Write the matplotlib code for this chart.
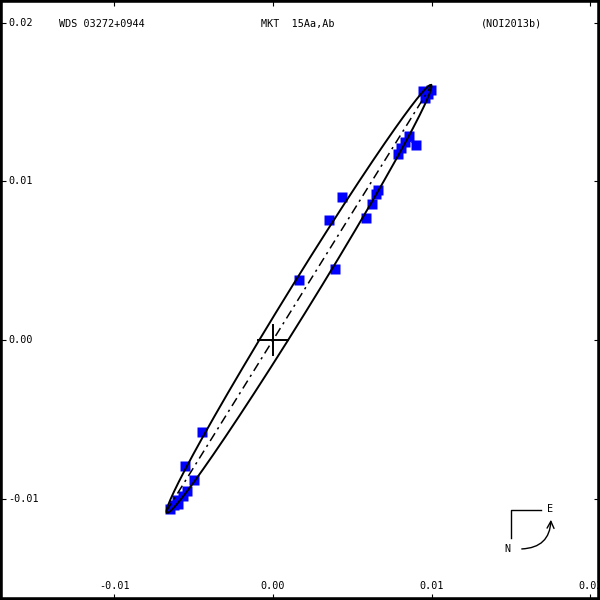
import numpy as np
import matplotlib
matplotlib.use("Agg")
import matplotlib.pyplot as plt
import matplotlib.transforms as mtransforms
from matplotlib.patches import FancyArrowPatch

# header texts
title_left = "WDS 03272+0944"
title_mid = "MKT  15Aa,Ab"
title_right = "(NOI2013b)"

# observed positions (arcsec)
obs_x = [0.00946, 0.00996, 0.00958, 0.00977, 0.00858, 0.00832, 0.00807, 0.00788,
         0.00902, 0.00662, 0.00649, 0.00624, 0.00586, 0.00435, 0.00353, 0.00391,
         0.00164, -0.00448, -0.00555, -0.00498, -0.00542, -0.00567, -0.00605,
         -0.00624, -0.00649, -0.00599]
obs_y = [0.01570, 0.01576, 0.01526, 0.01551, 0.01286, 0.01248, 0.01211, 0.01173,
         0.01230, 0.00946, 0.00921, 0.00858, 0.00769, 0.00902, 0.00757, 0.00448,
         0.00378, -0.00580, -0.00794, -0.00883, -0.00952, -0.00984, -0.01009,
         -0.01040, -0.01066, -0.01034]

# apparent orbit ellipse
orb_cx, orb_cy = 0.00164, 0.00259
orb_a, orb_b = 0.01585, 0.00079
orb_ang = 58.3      # deg from +x
node_ang = 58.1     # line of nodes, through primary

ticks = [-0.01, 0.00, 0.01, 0.02]
tick_labels = ["-0.01", "0.00", "0.01", "0.02"]

FONT = dict(family="DejaVu Sans Mono", fontsize=7.3, color="black")

fig = plt.figure(figsize=(6, 6), dpi=100)
ax = fig.add_axes([0, 0, 1, 1])
ax.set_xlim(-273 / 15860, 327 / 15860)
ax.set_ylim(-260 / 15860, 340 / 15860)

for s in ax.spines.values():
    s.set_linewidth(4)
ax.set_xticks(ticks)
ax.set_yticks(ticks)
ax.tick_params(direction="in", length=4.5, width=0.8, top=True, right=True,
               labelbottom=False, labelleft=False)

# ellipse points
t = np.linspace(0, 2 * np.pi, 721)
th = np.radians(orb_ang)
ex = orb_cx + orb_a * np.cos(t) * np.cos(th) - orb_b * np.sin(t) * np.sin(th)
ey = orb_cy + orb_a * np.cos(t) * np.sin(th) + orb_b * np.sin(t) * np.cos(th)

# O-C lines to nearest orbit point
for x, y in zip(obs_x, obs_y):
    i = np.argmin((ex - x) ** 2 + (ey - y) ** 2)
    ax.plot([x, ex[i]], [y, ey[i]], color="blue", lw=0.7, zorder=2)

ax.plot(obs_x, obs_y, "s", color="#0000ff", markersize=7.2, mec="none", zorder=3)
ax.plot(ex, ey, color="black", lw=1.4, zorder=4)

# line of nodes through primary, clipped to the ellipse
r = np.linspace(-0.03, 0.03, 6001)
nx = r * np.cos(np.radians(node_ang))
ny = r * np.sin(np.radians(node_ang))
u = ((nx - orb_cx) * np.cos(th) + (ny - orb_cy) * np.sin(th)) / orb_a
v = (-(nx - orb_cx) * np.sin(th) + (ny - orb_cy) * np.cos(th)) / orb_b
inside = u ** 2 + v ** 2 <= 1
ax.plot(nx[inside], ny[inside], color="black", lw=1.1, ls=(0, (6, 3, 1.5, 3)), zorder=4)

# primary cross
cs = 0.00092
ax.plot([-cs, cs], [0, 0], color="black", lw=1.4, zorder=5)
ax.plot([0, 0], [-cs, cs], color="black", lw=1.4, zorder=5)

# tick labels inside the frame
bot = mtransforms.blended_transform_factory(ax.transData, ax.transAxes)
for v_, lab in zip(ticks, tick_labels):
    ax.text(v_, 1 - 589 / 600, lab, transform=bot, ha="center", va="baseline", **FONT)
left = mtransforms.blended_transform_factory(ax.transAxes, ax.transData)
for v_, lab in zip(ticks, tick_labels):
    ax.text(8 / 600, v_, lab, transform=left, ha="left", va="center", **FONT)

# header
ty = 1 - 24 / 600
ax.text(59 / 600, ty, title_left, transform=ax.transAxes, ha="left", va="center", **FONT)
ax.text(261 / 600, ty, title_mid, transform=ax.transAxes, ha="left", va="center", **FONT)
ax.text(481 / 600, ty, title_right, transform=ax.transAxes, ha="left", va="center", **FONT)

# compass
def fr(px, py):
    return px / 600, 1 - py / 600

ax.plot(*zip(fr(541, 510), fr(511, 510), fr(511, 538)), color="black", lw=1,
        transform=ax.transAxes)
ax.text(*fr(550, 509), "E", transform=ax.transAxes, ha="center", va="center", **FONT)
ax.text(*fr(507, 549), "N", transform=ax.transAxes, ha="center", va="center", **FONT)
arr = FancyArrowPatch(fr(519, 549), fr(551, 517), transform=ax.transAxes,
                      connectionstyle="angle3,angleA=0,angleB=90",
                      arrowstyle="->,head_length=0.5,head_width=0.25",
                      mutation_scale=10, lw=1, color="black")
ax.add_patch(arr)

fig.savefig("out.png", dpi=100)
